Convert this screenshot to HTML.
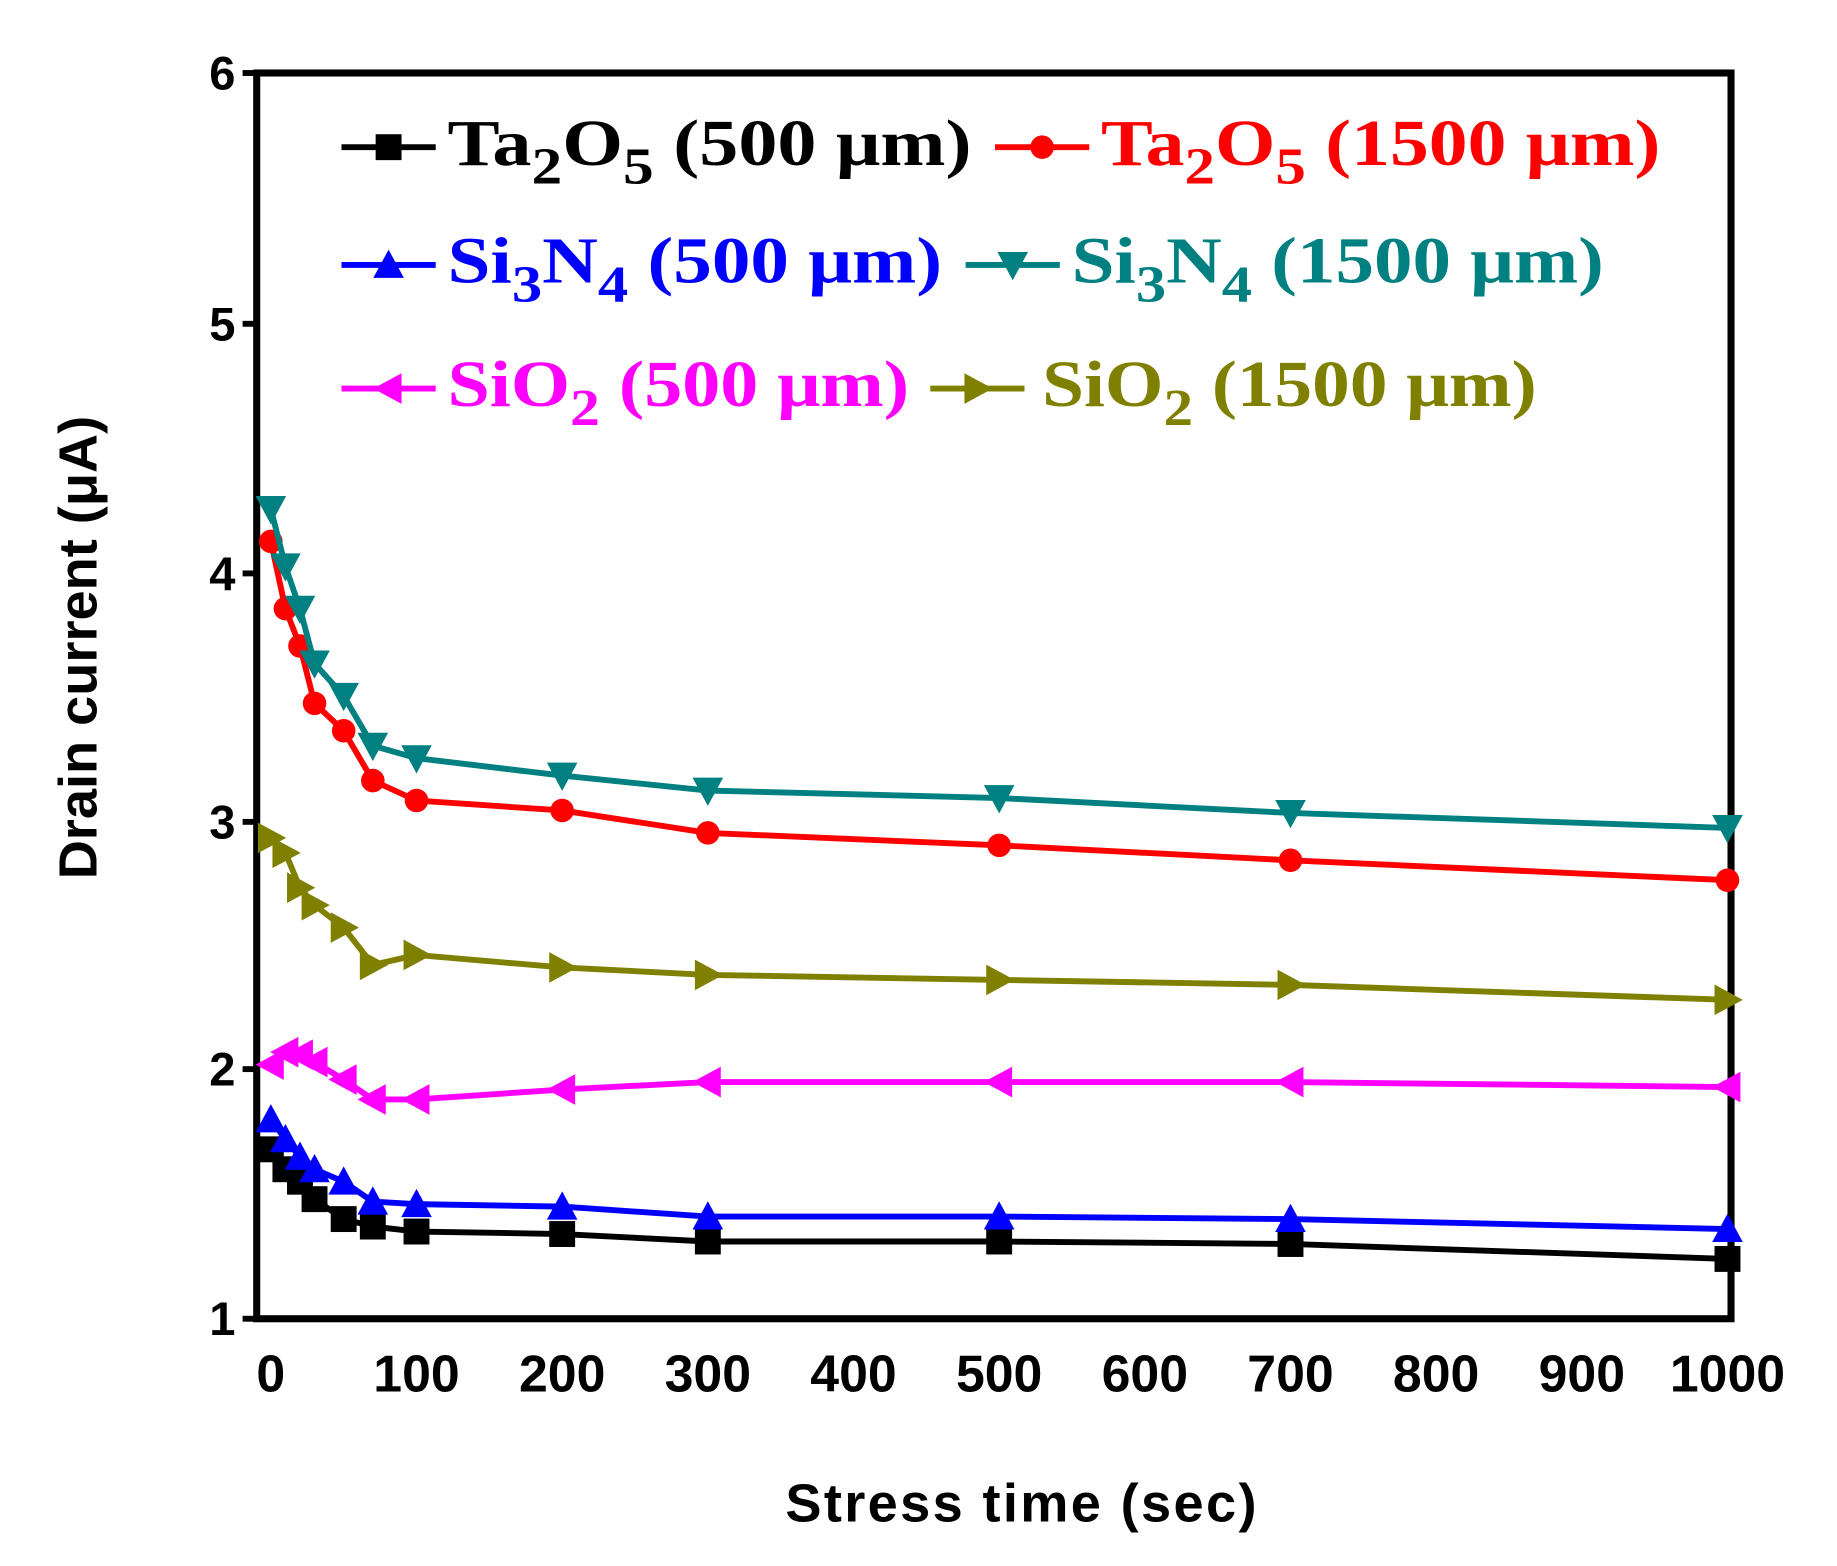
<!DOCTYPE html>
<html><head><meta charset="utf-8"><style>
html,body{margin:0;padding:0;background:#fff;}
svg{display:block;}
.t{font-family:"Liberation Serif",serif;font-weight:bold;font-size:56px;}
.s{font-size:44px;}
.k{font-family:"Liberation Sans",sans-serif;font-weight:bold;font-size:40px;}
</style></head><body>
<svg id="c" width="1837" height="1566" viewBox="0 0 1560 1330" preserveAspectRatio="none" xmlns="http://www.w3.org/2000/svg">
<rect x="218" y="62" width="1252" height="1058" fill="none" stroke="#000" stroke-width="6"/>
<g class="k" text-anchor="end">
<text x="200" y="76">6</text><text x="200" y="289">5</text><text x="200" y="501">4</text>
<text x="200" y="712">3</text><text x="200" y="922">2</text><text x="200" y="1134">1</text>
</g>
<g stroke="#000" stroke-width="5">
<line x1="206" y1="62" x2="218" y2="62"/><line x1="206" y1="275" x2="218" y2="275"/><line x1="206" y1="487" x2="218" y2="487"/><line x1="206" y1="698" x2="218" y2="698"/><line x1="206" y1="908" x2="218" y2="908"/><line x1="206" y1="1120" x2="218" y2="1120"/>
</g>
<g class="k" text-anchor="middle" id="xt" style="font-size:44px"></g>
<text class="k" x="868" y="1292" text-anchor="middle" style="font-size:46px;letter-spacing:2px">Stress time (sec)</text>
<text class="k" transform="translate(82,550) rotate(-90)" text-anchor="middle" style="font-size:46px">Drain current (μA)</text>
<g id="series"></g>
<g id="leg"></g>
<g class="t">
<text x="380" y="140" fill="#000" textLength="445" lengthAdjust="spacingAndGlyphs">Ta<tspan class="s" dy="16">2</tspan><tspan dy="-16">O</tspan><tspan class="s" dy="16">5</tspan><tspan dy="-16"> (500 μm)</tspan></text>
<text x="935" y="140" fill="#ff0000" textLength="475" lengthAdjust="spacingAndGlyphs">Ta<tspan class="s" dy="16">2</tspan><tspan dy="-16">O</tspan><tspan class="s" dy="16">5</tspan><tspan dy="-16"> (1500 μm)</tspan></text>
<text x="380" y="240" fill="#0000ff" textLength="420" lengthAdjust="spacingAndGlyphs">Si<tspan class="s" dy="16">3</tspan><tspan dy="-16">N</tspan><tspan class="s" dy="16">4</tspan><tspan dy="-16"> (500 μm)</tspan></text>
<text x="910" y="240" fill="#008080" textLength="452" lengthAdjust="spacingAndGlyphs">Si<tspan class="s" dy="16">3</tspan><tspan dy="-16">N</tspan><tspan class="s" dy="16">4</tspan><tspan dy="-16"> (1500 μm)</tspan></text>
<text x="380" y="345" fill="#ff00ff" textLength="392" lengthAdjust="spacingAndGlyphs">SiO<tspan class="s" dy="16">2</tspan><tspan dy="-16"> (500 μm)</tspan></text>
<text x="885" y="345" fill="#808000" textLength="420" lengthAdjust="spacingAndGlyphs">SiO<tspan class="s" dy="16">2</tspan><tspan dy="-16"> (1500 μm)</tspan></text>
</g>
</svg>
<script>
var NS="http://www.w3.org/2000/svg";
function el(p,n,a){var e=document.createElementNS(NS,n);for(var k in a)e.setAttribute(k,a[k]);p.appendChild(e);return e;}
var xt=document.getElementById("xt");
for(var i=0;i<=10;i++){var x=230+i*123.7;var t=el(xt,"text",{x:x,y:1182});t.textContent=String(i*100);}
var T=[0,10,20,30,50,70,100,200,300,500,700,1000];
function X(t){return 230+t*1.237;}function Y(v){return 1120-(v-1)*211.6;}
var S=[
["#000","sq",[1.68,1.6,1.55,1.48,1.4,1.37,1.35,1.34,1.31,1.31,1.3,1.24]],
["#0000ff","up",[1.8,1.72,1.65,1.6,1.55,1.47,1.46,1.45,1.41,1.41,1.4,1.36]],
["#ff00ff","lt",[2.02,2.07,2.06,2.03,1.96,1.88,1.88,1.92,1.95,1.95,1.95,1.93]],
["#808000","rt",[2.93,2.87,2.73,2.66,2.57,2.42,2.46,2.41,2.38,2.36,2.34,2.28]],
["#ff0000","ci",[4.12,3.85,3.7,3.47,3.36,3.16,3.08,3.04,2.95,2.9,2.84,2.76]],
["#008080","dn",[4.25,4.02,3.85,3.63,3.5,3.3,3.25,3.18,3.12,3.09,3.03,2.97]]];
function mk(g,c,m,x,y){var r=11;
if(m=="sq")el(g,"rect",{x:x-r,y:y-r,width:2*r,height:2*r,fill:c});
else if(m=="ci")el(g,"circle",{cx:x,cy:y,r:r-1,fill:c});
else{var p;if(m=="up")p=[[x,y-r-2],[x-r-2,y+r],[x+r+2,y+r]];
else if(m=="dn")p=[[x,y+r+2],[x-r-2,y-r],[x+r+2,y-r]];
else if(m=="lt")p=[[x-r-2,y],[x+r,y-r-2],[x+r,y+r+2]];
else p=[[x+r+2,y],[x-r,y-r-2],[x-r,y+r+2]];
el(g,"polygon",{points:p.map(function(q){return q.join(",")}).join(" "),fill:c});}}
var g=document.getElementById("series");
S.forEach(function(s){var pts=T.map(function(t,i){return X(t)+","+Y(s[2][i]);}).join(" ");
el(g,"polyline",{points:pts,fill:"none",stroke:s[0],"stroke-width":5});
T.forEach(function(t,i){mk(g,s[0],s[1],X(t),Y(s[2][i]));});});
var lg=document.getElementById("leg");
[[290,370,125,"#000","sq"],[845,925,125,"#ff0000","ci"],[290,370,225,"#0000ff","up"],[820,900,225,"#008080","dn"],[290,370,330,"#ff00ff","lt"],[790,870,330,"#808000","rt"]].forEach(function(l){
el(lg,"line",{x1:l[0],y1:l[2],x2:l[1],y2:l[2],stroke:l[3],"stroke-width":5});mk(lg,l[3],l[4],(l[0]+l[1])/2,l[2]);});
</script>
</body></html>
